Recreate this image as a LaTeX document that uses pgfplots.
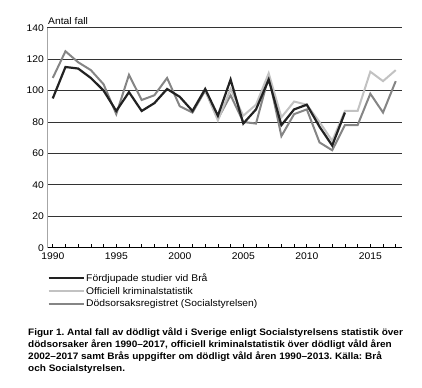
\documentclass[border=0pt]{standalone}
\usepackage{fontspec}
\setmainfont{Liberation Sans}[FakeStretch=1.07]
\usepackage{pgfplots}
\pgfplotsset{compat=1.18}
\definecolor{cblack}{HTML}{222222}
\definecolor{clight}{HTML}{C2C2C2}
\definecolor{cmed}{HTML}{858585}
\definecolor{cgrid}{HTML}{333333}
\frenchspacing
\begin{document}
\begin{tikzpicture}[x=1bp,y=1bp]
\useasboundingbox (0,0) rectangle (422,388);
\begin{axis}[
  at={(47.3bp,140.3bp)}, anchor=south west,
  scale only axis, width=354.4bp, height=220bp,
  xmin=1989.57, xmax=2017.47, ymin=0, ymax=140,
  axis x line*=bottom, axis y line*=left,
  x axis line style={draw=black, line width=0.8bp, -},
  y axis line style={draw=gray!70, line width=0.8bp, -},
  xtick={1990,1995,2000,2005,2010,2015},
  minor xtick={1990,...,2017},
  xtick pos=bottom, tick align=inside,
  major tick length=4bp, minor tick length=4bp,
  xtick style={black, line width=0.7bp},
  minor tick style={black, line width=0.7bp},
  ytick={0,20,...,140},
  ytick style={draw=none},
  ymajorgrids, grid style={cgrid, line width=0.8bp},
  xticklabel style={font=\fontsize{9.7}{11}\selectfont, yshift=-1.5bp},
  yticklabel style={font=\fontsize{9.7}{11}\selectfont, xshift=0bp},
  /pgf/number format/assume math mode=true,
  /pgf/number format/1000 sep={},
  reverse legend,
  legend cell align=left,
  legend style={at={(0,-0.11)}, anchor=north west, draw=none, fill=none,
    font=\fontsize{9.7}{11}\selectfont, row sep=1.2bp, inner sep=0pt,
    nodes={inner sep=1.5bp}},
  legend image code/.code={\draw[#1, line width=2.2bp] (0bp,0bp) -- (35bp,0bp);},
  every axis plot/.append style={line width=2bp, line join=miter, mark=none},
]
\addplot[cmed] coordinates {
(1990,108)(1991,125)(1992,118)(1993,113)(1994,104)(1995,85)(1996,110)(1997,94)
(1998,97)(1999,108)(2000,90)(2001,86)(2002,100)(2003,82)(2004,97)(2005,80)
(2006,79)(2007,109)(2008,71)(2009,85)(2010,88)(2011,67)(2012,62)(2013,78)
(2014,78)(2015,98)(2016,86)(2017,106)};
\addlegendentry{Dödsorsaksregistret (Socialstyrelsen)}
\addplot[clight] coordinates {
(2002,100)(2003,81)(2004,101)(2005,84)(2006,91)(2007,111)(2008,83)(2009,93)
(2010,91)(2011,80)(2012,68)(2013,87)(2014,87)(2015,112)(2016,106)(2017,113)};
\addlegendentry{Officiell kriminalstatistik}
\addplot[cblack, line width=2.2bp] coordinates {
(1990,95)(1991,115)(1992,114)(1993,108)(1994,100)(1995,87)(1996,99)(1997,87)
(1998,92)(1999,101)(2000,96)(2001,87)(2002,101)(2003,84)(2004,107)(2005,79)
(2006,88)(2007,107)(2008,78)(2009,88)(2010,91)(2011,77)(2012,65)(2013,86)};
\addlegendentry{Fördjupade studier vid Brå}
\end{axis}
\node[anchor=south west, inner sep=0pt, font=\fontsize{9.7}{11}\selectfont] at (48,363) {Antal fall};
\node[anchor=north west, inner sep=0pt, align=left,
  font=\fontsize{9.4}{12}\selectfont\bfseries] at (28,60.5)
  {Figur 1. Antal fall av dödligt våld i Sverige enligt Socialstyrelsens statistik över\\
   dödsorsaker åren 1990–2017, officiell kriminalstatistik över dödligt våld åren\\
   2002–2017 samt Brås uppgifter om dödligt våld åren 1990–2013. Källa: Brå\\
   och Socialstyrelsen.};
\end{tikzpicture}
\end{document}
